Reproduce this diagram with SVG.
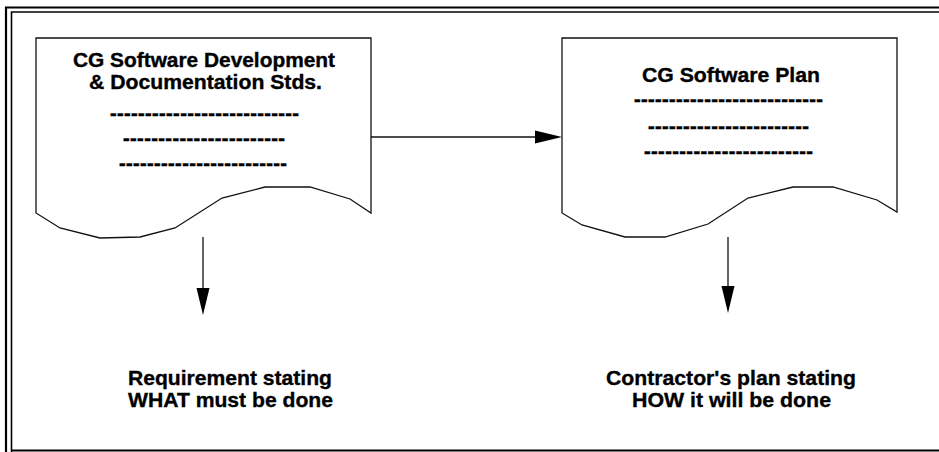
<svg xmlns="http://www.w3.org/2000/svg" width="939" height="452" viewBox="0 0 939 452">
  <style>
    .frame { fill: none; stroke: #000; }
    .doc { fill: #fff; stroke: #111; stroke-width: 1.3; stroke-linejoin: miter; }
    .conn { fill: none; stroke: #111; stroke-width: 1.3; }
    text { font-family: "Liberation Sans", Arial, sans-serif; font-weight: bold; fill: #000; stroke: #000; stroke-width: 0.35; text-anchor: middle; }
    .h { font-size: 19.5px; }
    .h2 { font-size: 20.5px; }
    .lbl { font-size: 21px; }
    .rule { font-size: 20px; stroke-width: 0.5; }
  </style>
  <defs>
    <marker id="arrow" markerUnits="userSpaceOnUse" markerWidth="27" markerHeight="14" refX="23" refY="7" orient="auto">
      <path d="M0,0.5 L27,7 L0,13.5 Z" fill="#000"/>
    </marker>
  </defs>

  <rect width="939" height="452" fill="#fff"/>

  <!-- page frame: double rule top and left, single rule at the bottom -->
  <g id="frame">
    <path class="frame" stroke-width="2.2" d="M6,452 V7.5 H939"/>
    <path class="frame" stroke-width="1.6" d="M11.5,452 V12 H939"/>
    <path class="frame" stroke-width="2" d="M11.5,450.5 H939"/>
  </g>

  <!-- standards document -->
  <g id="standards-doc">
    <path class="doc" d="M36,38 H371 V213 L350,199 L310,187 L265,187 L222,198 L175,228 L140,237 L100,238 L60,228 L36,213 Z"/>
    <text class="h" x="204" y="67" textLength="262" lengthAdjust="spacingAndGlyphs">CG Software Development</text>
    <text class="h" x="205.5" y="89" textLength="233" lengthAdjust="spacingAndGlyphs">&amp; Documentation Stds.</text>
    <text class="rule" x="204.5" y="120" textLength="189" lengthAdjust="spacing">---------------------------</text>
    <text class="rule" x="204" y="144.5" textLength="162" lengthAdjust="spacing">-----------------------</text>
    <text class="rule" x="203" y="169.5" textLength="168" lengthAdjust="spacing">------------------------</text>
  </g>

  <!-- software plan document -->
  <g id="plan-doc">
    <path class="doc" d="M562,38 H897 V212 L877,200 L833,187 L793,187 L748,198 L708,224 L665,237 L625,237 L582,225 L562,213 Z"/>
    <text class="h2" x="731" y="82" textLength="178" lengthAdjust="spacingAndGlyphs">CG Software Plan</text>
    <text class="rule" x="728.5" y="106" textLength="189" lengthAdjust="spacing">---------------------------</text>
    <text class="rule" x="728.5" y="132.5" textLength="161" lengthAdjust="spacing">-----------------------</text>
    <text class="rule" x="728.5" y="158" textLength="169" lengthAdjust="spacing">------------------------</text>
  </g>

  <!-- outcome labels -->
  <g id="what-label">
    <text class="lbl" x="230" y="385" textLength="204" lengthAdjust="spacingAndGlyphs">Requirement stating</text>
    <text class="lbl" x="230.5" y="407" textLength="205" lengthAdjust="spacingAndGlyphs">WHAT must be done</text>
  </g>
  <g id="how-label">
    <text class="lbl" x="731" y="385" textLength="250" lengthAdjust="spacingAndGlyphs">Contractor's plan stating</text>
    <text class="lbl" x="731.5" y="407" textLength="199" lengthAdjust="spacingAndGlyphs">HOW it will be done</text>
  </g>

  <!-- connectors -->
  <g id="connectors">
    <line class="conn" x1="371" y1="137" x2="558" y2="137" marker-end="url(#arrow)"/>
    <line class="conn" x1="203" y1="237" x2="203" y2="311" marker-end="url(#arrow)"/>
    <line class="conn" x1="728" y1="237" x2="728" y2="309" marker-end="url(#arrow)"/>
  </g>
</svg>
